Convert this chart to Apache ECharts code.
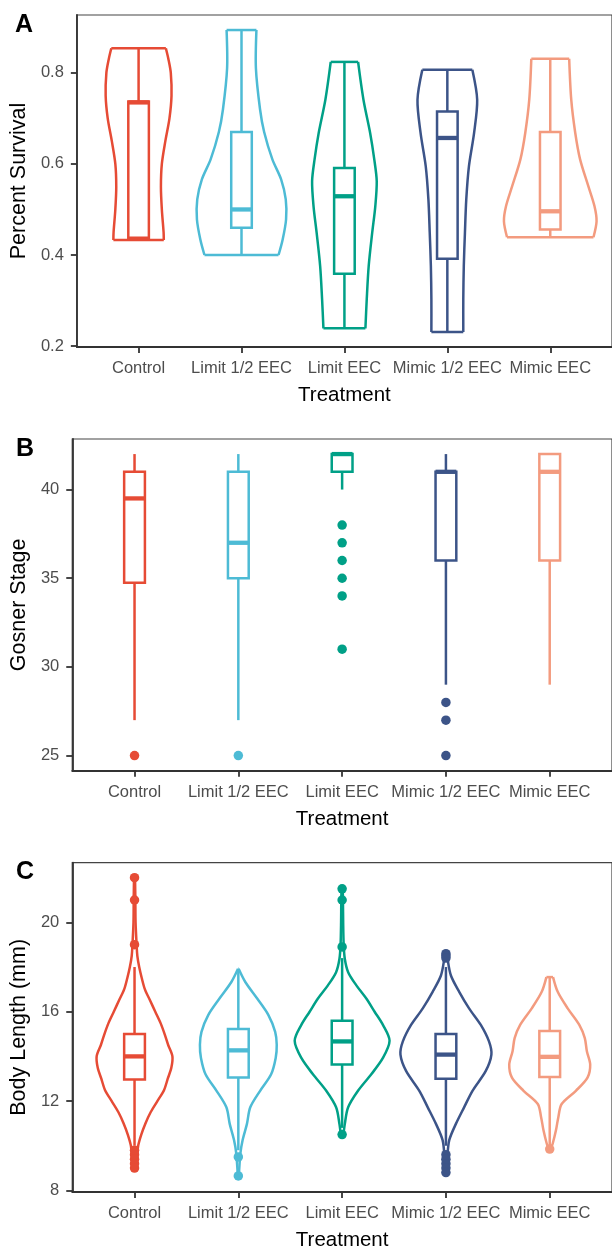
<!DOCTYPE html>
<html>
<head>
<meta charset="utf-8">
<script src="https://cdn.jsdelivr.net/npm/echarts@6/dist/echarts.min.js"></script>
<style>
  html, body { margin: 0; padding: 0; background: #fff; }
  #chart { width: 612px; height: 1252px; }
</style>
</head>
<body>
<div id="chart"></div>
<script>
// treatments and colours (npg palette)
const treatments = ['Control', 'Limit 1/2 EEC', 'Limit EEC', 'Mimic 1/2 EEC', 'Mimic EEC'];
const colors = ['#E64B35', '#4DBBD5', '#00A087', '#3C5488', '#F39B7F'];

// A - percent survival, box = [low whisker, q1, median, q3, high whisker]
const survivalBox = [
    [0.433, 0.438, 0.735, 0.737, 0.854],
    [0.400, 0.460, 0.500, 0.670, 0.894],
    [0.239, 0.359, 0.529, 0.591, 0.824],
    [0.231, 0.392, 0.657, 0.715, 0.807],
    [0.439, 0.456, 0.496, 0.670, 0.831]
];
// violin outline: [value, half width in treatment units], top to bottom
const survivalViolin = [
    [[0.854, 0.265], [0.83, 0.29], [0.80, 0.313], [0.75, 0.32], [0.70, 0.30], [0.65, 0.26], [0.60, 0.226], [0.55, 0.217], [0.50, 0.226], [0.45, 0.243], [0.433, 0.245]],
    [[0.894, 0.145], [0.81, 0.14], [0.72, 0.18], [0.67, 0.22], [0.61, 0.30], [0.566, 0.385], [0.522, 0.43], [0.478, 0.433], [0.434, 0.40], [0.40, 0.36]],
    [[0.824, 0.133], [0.741, 0.185], [0.668, 0.25], [0.61, 0.29], [0.562, 0.314], [0.507, 0.30], [0.449, 0.27], [0.376, 0.236], [0.303, 0.217], [0.239, 0.204]],
    [[0.807, 0.243], [0.741, 0.29], [0.668, 0.26], [0.595, 0.21], [0.522, 0.184], [0.449, 0.171], [0.376, 0.16], [0.303, 0.155], [0.231, 0.155]],
    [[0.831, 0.184], [0.741, 0.204], [0.668, 0.243], [0.61, 0.29], [0.551, 0.37], [0.507, 0.43], [0.474, 0.45], [0.439, 0.42]]
];
const survivalTicks = [0.2, 0.4, 0.6, 0.8];

// B - Gosner stage
const stageBox = [
    [27, 34.75, 39.5, 41, 42],
    [27, 35, 37, 41, 42],
    [40, 41, 42, 42, 42],
    [29, 36, 41, 41, 42],
    [29, 36, 41, 42, 42]
];
const stageOutliers = [[25], [25], [38, 37, 36, 35, 34, 31], [28, 27, 25], []];
const stageTicks = [25, 30, 35, 40];

// C - body length (mm)
const lengthBox = [
    [10.0, 12.97, 14.0, 15.0, 18.0],
    [9.8, 13.05, 14.27, 15.23, 17.9],
    [10.8, 13.64, 14.67, 15.59, 18.4],
    [10.0, 13.0, 14.08, 15.0, 18.0],
    [10.0, 13.08, 13.98, 15.14, 17.55]
];
const lengthOutliers = [
    [22, 21, 19, 9.0, 9.2, 9.4, 9.6, 9.8],
    [9.5, 8.65],
    [21.5, 21.0, 18.9, 10.5],
    [18.6, 18.5, 18.4, 9.6, 9.4, 9.2, 9.0, 8.8],
    [9.85]
];
const lengthViolin = [
    [[22.0, 0.005], [21.0, 0.008], [20.0, 0.01], [19.0, 0.02], [18.5, 0.027], [18.0, 0.045], [17.5, 0.07], [17.0, 0.1], [16.5, 0.15], [16.0, 0.2], [15.5, 0.25], [15.0, 0.29], [14.5, 0.325], [14.0, 0.365], [13.5, 0.355], [13.0, 0.32], [12.5, 0.285], [12.0, 0.22], [11.5, 0.155], [11.0, 0.105], [10.5, 0.065], [10.0, 0.035], [9.5, 0.025], [8.95, 0.012]],
    [[17.92, 0.003], [17.33, 0.067], [16.6, 0.18], [15.85, 0.29], [15.1, 0.355], [14.52, 0.37], [13.93, 0.36], [13.2, 0.316], [12.46, 0.21], [11.72, 0.115], [10.98, 0.083], [10.25, 0.041], [9.66, 0.02], [8.65, 0.005]],
    [[21.6, 0.005], [21.0, 0.008], [20.0, 0.01], [19.0, 0.015], [18.36, 0.026], [17.77, 0.058], [17.18, 0.137], [16.59, 0.233], [16.0, 0.313], [15.41, 0.393], [14.7, 0.457], [13.93, 0.393], [13.2, 0.281], [12.46, 0.153], [11.72, 0.058], [10.98, 0.026], [10.45, 0.012]],
    [[18.7, 0.01], [18.36, 0.016], [17.62, 0.048], [16.89, 0.128], [16.15, 0.223], [15.41, 0.336], [14.67, 0.415], [14.08, 0.438], [13.35, 0.384], [12.46, 0.256], [11.72, 0.175], [10.98, 0.096], [10.25, 0.032], [9.5, 0.014], [8.75, 0.005]],
    [[17.55, 0.032], [16.89, 0.077], [16.15, 0.173], [15.41, 0.285], [14.82, 0.338], [14.23, 0.358], [13.64, 0.39], [13.05, 0.364], [12.46, 0.252], [11.87, 0.115], [11.28, 0.083], [10.69, 0.06], [10.1, 0.029], [9.85, 0.01]]
];
const lengthTicks = [8, 12, 16, 20];

const FONT = 'Liberation Sans, Arial, sans-serif';
const catTicks = [1, 2, 3, 4, 5];
const LW = 2.5;

// violin outline drawn from the profile arrays
function violinRender(profiles) {
    return function (params, api) {
        var i = params.dataIndex;
        var x = api.value(0);
        var prof = profiles[i];
        var left = prof.map(function (p) { return api.coord([x - p[1], p[0]]); });
        var right = prof.map(function (p) { return api.coord([x + p[1], p[0]]); });
        var n = prof.length - 1;
        function st() { return { stroke: colors[i], lineWidth: LW, fill: null, lineJoin: 'round' }; }
        return {
            type: 'group',
            children: [
                { type: 'polyline', shape: { points: left, smooth: 0.3 }, style: st() },
                { type: 'polyline', shape: { points: right, smooth: 0.3 }, style: st() },
                { type: 'line', shape: { x1: left[0][0], y1: left[0][1], x2: right[0][0], y2: right[0][1] }, style: st() },
                { type: 'line', shape: { x1: left[n][0], y1: left[n][1], x2: right[n][0], y2: right[n][1] }, style: st() }
            ]
        };
    };
}

function boxRender(params, api) {
    var i = params.dataIndex;
    var x = api.value(0), w = 0.1;
    var lo = api.coord([x, api.value(1)]);
    var q1 = api.coord([x - w, api.value(2)]);
    var q1r = api.coord([x + w, api.value(2)]);
    var med = api.coord([x - w, api.value(3)]);
    var medr = api.coord([x + w, api.value(3)]);
    var q3 = api.coord([x - w, api.value(4)]);
    var hi = api.coord([x, api.value(5)]);
    var c = colors[i];
    return {
        type: 'group',
        children: [
            { type: 'line', shape: { x1: hi[0], y1: hi[1], x2: hi[0], y2: q3[1] }, style: { stroke: c, lineWidth: LW } },
            { type: 'line', shape: { x1: lo[0], y1: lo[1], x2: lo[0], y2: q1[1] }, style: { stroke: c, lineWidth: LW } },
            { type: 'rect', shape: { x: q3[0], y: q3[1], width: q1r[0] - q1[0], height: q1[1] - q3[1] }, style: { stroke: c, lineWidth: LW, fill: '#fff' } },
            { type: 'line', shape: { x1: med[0], y1: med[1], x2: medr[0], y2: medr[1] }, style: { stroke: c, lineWidth: 4.3 } }
        ]
    };
}

function boxData(b) {
    return b.map(function (row, i) { return [i + 1].concat(row); });
}
function outlierData(o) {
    var out = [];
    o.forEach(function (vals, i) {
        vals.forEach(function (v) {
            out.push({ value: [i + 1, v], itemStyle: { color: colors[i], opacity: 1 } });
        });
    });
    return out;
}

var grids = [
    { left: 76.5, top: 15, width: 537.4, height: 332 },
    { left: 72, top: 439, width: 542.6, height: 331.7 },
    { left: 72, top: 862.7, width: 542.6, height: 331.3 }
];

var lineCol = '#333';

function xAxis(g) {
    return {
        type: 'value', gridIndex: g, min: 0.4, max: 5.6,
        name: 'Treatment', nameLocation: 'middle', nameGap: 38,
        nameTextStyle: { fontSize: 20.5, color: '#000', fontFamily: FONT },
        axisLine: { show: true, onZero: false, lineStyle: { color: lineCol, width: 1.8 } },
        axisTick: { show: true, customValues: catTicks, length: 6, lineStyle: { color: lineCol, width: 1.8 } },
        axisLabel: {
            customValues: catTicks, margin: 13, fontSize: 16.5, color: '#4D4D4D', fontFamily: FONT,
            formatter: function (v) { return treatments[Math.round(v) - 1]; }
        },
        splitLine: { show: false }
    };
}
function yAxis(g, name, min, max, ticks, gap) {
    return {
        type: 'value', gridIndex: g, min: min, max: max,
        name: name, nameLocation: 'middle', nameGap: gap,
        nameTextStyle: { fontSize: 21.5, color: '#000', fontFamily: FONT },
        axisLine: { show: true, lineStyle: { color: lineCol, width: 1.8 } },
        axisTick: { show: true, customValues: ticks, length: 6, lineStyle: { color: lineCol, width: 1.8 } },
        axisLabel: { customValues: ticks, margin: 13, fontSize: 16.5, color: '#4D4D4D', fontFamily: FONT },
        splitLine: { show: false }
    };
}

var option = {
    animation: false,
    backgroundColor: '#fff',
    title: [
        { text: 'A', left: 15, top: 13, padding: 0, textStyle: { fontSize: 25, fontWeight: 'bold', color: '#000', fontFamily: FONT } },
        { text: 'B', left: 16, top: 437, padding: 0, textStyle: { fontSize: 25, fontWeight: 'bold', color: '#000', fontFamily: FONT } },
        { text: 'C', left: 16, top: 860, padding: 0, textStyle: { fontSize: 25, fontWeight: 'bold', color: '#000', fontFamily: FONT } }
    ],
    grid: grids.map(function (g) {
        return Object.assign({ show: true, borderColor: '#444', borderWidth: 1.2, backgroundColor: '#fff' }, g);
    }),
    xAxis: [xAxis(0), xAxis(1), xAxis(2)],
    yAxis: [
        yAxis(0, 'Percent Survival', 0.198, 0.927, survivalTicks, 42),
        yAxis(1, 'Gosner Stage', 24.15, 42.85, stageTicks, 39),
        yAxis(2, 'Body Length (mm)', 7.93, 22.67, lengthTicks, 39)
    ],
    series: [
        { type: 'custom', xAxisIndex: 0, yAxisIndex: 0, renderItem: violinRender(survivalViolin), data: catTicks.map(function (c) { return [c]; }), z: 2 },
        { type: 'custom', xAxisIndex: 0, yAxisIndex: 0, renderItem: boxRender, data: boxData(survivalBox), z: 3 },

        { type: 'custom', xAxisIndex: 1, yAxisIndex: 1, renderItem: boxRender, data: boxData(stageBox), z: 3 },
        { type: 'scatter', xAxisIndex: 1, yAxisIndex: 1, symbolSize: 9.5, data: outlierData(stageOutliers), z: 4 },

        { type: 'custom', xAxisIndex: 2, yAxisIndex: 2, renderItem: violinRender(lengthViolin), data: catTicks.map(function (c) { return [c]; }), z: 2 },
        { type: 'custom', xAxisIndex: 2, yAxisIndex: 2, renderItem: boxRender, data: boxData(lengthBox), z: 3 },
        { type: 'scatter', xAxisIndex: 2, yAxisIndex: 2, symbolSize: 9.5, data: outlierData(lengthOutliers), z: 4 }
    ]
};

var chart = echarts.init(document.getElementById('chart'), null, { renderer: 'canvas' });
chart.setOption(option);
</script>
</body>
</html>
